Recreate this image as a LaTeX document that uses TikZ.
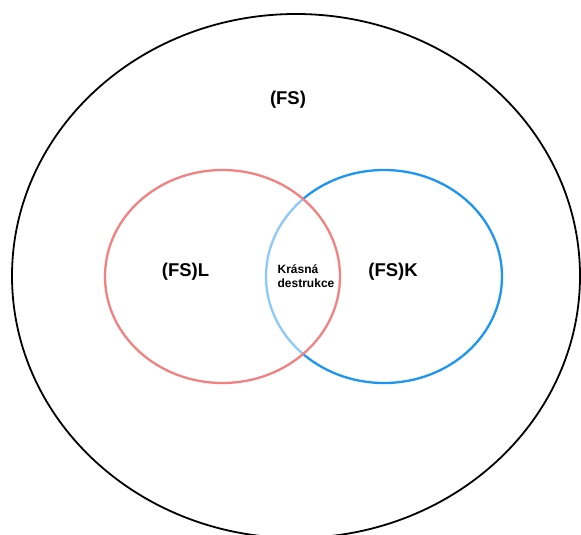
\documentclass[tikz,border=0pt]{standalone}
\usepackage{fontspec}
\setmainfont{Liberation Sans}
\definecolor{vred}{RGB}{242,130,130}
\definecolor{vblue}{RGB}{28,150,240}
\begin{document}
\begin{tikzpicture}[x=1pt,y=-1pt,
  outerset/.style={draw=black,line width=1.8pt},
  setline/.style={line width=2.3pt},
  biglabel/.style={font=\bfseries\fontsize{18.5}{21}\selectfont,inner sep=0pt},
  smalllabel/.style={font=\bfseries\fontsize{12}{14.5}\selectfont,inner sep=0pt,align=left}]
\useasboundingbox (0,0) rectangle (581,535);
\fill[white] (0,0) rectangle (581,535);
% outer set
\draw[outerset] (296,276) ellipse [x radius=284pt, y radius=262pt];
% blue set
\draw[setline,draw=vblue] (384,276.5) ellipse [x radius=118pt, y radius=106.5pt];
% red set with a half-transparent white fill over the blue
\fill[white,opacity=0.5] (222.5,276.5) ellipse [x radius=117.5pt, y radius=106.5pt];
\draw[setline,draw=vred] (222.5,276.5) ellipse [x radius=117.5pt, y radius=106.5pt];
% labels
\node[biglabel] (fs) at (288,100) {(FS)};
\node[biglabel] (fsl) at (185.5,272) {(FS)L};
\node[biglabel] (fsk) at (393,272) {(FS)K};
\node[smalllabel] (kd) at (306,276) {Krásná\\destrukce};
\end{tikzpicture}
\end{document}
